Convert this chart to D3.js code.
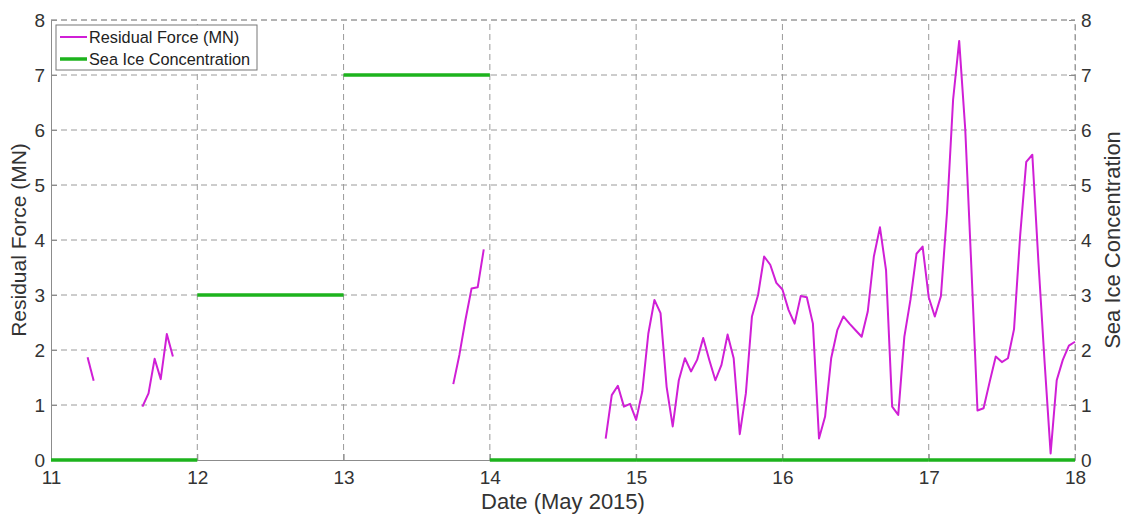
<!DOCTYPE html>
<html>
<head>
<meta charset="utf-8">
<script src="https://cdn.jsdelivr.net/npm/d3@7"></script>
<style>
  body { margin: 0; background: #fff; }
  svg { font-family: "Liberation Sans", Arial, sans-serif; }
</style>
</head>
<body>
<div id="chart"></div>
<script>
// Residual force, hourly samples, in runs between gaps (start = decimal day of May)
var forceRuns = [
    {start: 11 + 6/24, values: [1.87, 1.44]},
    {start: 11 + 15/24, values: [0.97, 1.21, 1.84, 1.47, 2.29, 1.88]},
    {start: 13 + 18/24, values: [1.38, 1.91, 2.55, 3.12, 3.14, 3.83]},
    {start: 14 + 19/24, values: [
        0.39, 1.18, 1.35, 0.97, 1.02,
        0.73, 1.24, 2.30, 2.91, 2.67, 1.33, 0.61, 1.45, 1.85, 1.61, 1.82, 2.22,
        1.82, 1.45, 1.73, 2.28, 1.85, 0.47, 1.21, 2.61, 3.00, 3.70, 3.55, 3.22,
        3.10, 2.73, 2.48, 2.98, 2.96, 2.48, 0.39, 0.79, 1.85, 2.36, 2.61, 2.48,
        2.36, 2.24, 2.70, 3.70, 4.23, 3.45, 0.97, 0.82, 2.24, 2.91, 3.75, 3.88,
        2.96, 2.61, 2.98, 4.50, 6.55, 7.62, 6.00, 3.50, 0.90, 0.94, 1.42, 1.88,
        1.78, 1.85, 2.38, 4.08, 5.42, 5.55, 3.60, 1.80, 0.12, 1.45, 1.82, 2.08,
        2.15]}
];

// Sea ice concentration, one value per day
var iceDays = [11, 12, 13, 14, 15, 16, 17];
var iceValues = [0, 3, 7, 0, 0, 0, 0];

var xTicks = [11, 12, 13, 14, 15, 16, 17, 18];
var yTicks = [0, 1, 2, 3, 4, 5, 6, 7, 8];

var W = 1126, H = 515;
var margin = {top: 20, right: 51, bottom: 55, left: 51};

var x = d3.scaleLinear().domain([11, 18]).range([margin.left, W - margin.right]);
var y = d3.scaleLinear().domain([0, 8]).range([H - margin.bottom, margin.top]);
var y2 = d3.scaleLinear().domain([0, 8]).range([H - margin.bottom, margin.top]);

var svg = d3.select("#chart").append("svg")
    .attr("width", W)
    .attr("height", H);

var gridColor = "#9a9a9a";
var axisColor = "#8c8c8c";

// gridlines
svg.append("g").selectAll("line")
    .data(xTicks.slice(1))
    .enter().append("line")
    .attr("x1", function(d) { return x(d); })
    .attr("x2", function(d) { return x(d); })
    .attr("y1", y(0))
    .attr("y2", y(8))
    .attr("stroke", gridColor)
    .attr("stroke-dasharray", "6,4");

svg.append("g").selectAll("line")
    .data(yTicks.slice(1))
    .enter().append("line")
    .attr("x1", x(11))
    .attr("x2", x(18))
    .attr("y1", function(d) { return y(d); })
    .attr("y2", function(d) { return y(d); })
    .attr("stroke", gridColor)
    .attr("stroke-dasharray", "6,4");

// axes (ticks point inward)
var fmt = d3.format("d");
var xAxis = svg.append("g")
    .attr("transform", "translate(0," + y(0) + ")")
    .call(d3.axisBottom(x).tickValues(xTicks).tickFormat(fmt)
          .tickSizeInner(-6).tickSizeOuter(0).tickPadding(11));
var yAxis = svg.append("g")
    .attr("transform", "translate(" + x(11) + ",0)")
    .call(d3.axisLeft(y).tickValues(yTicks).tickFormat(fmt)
          .tickSizeInner(-6).tickSizeOuter(0).tickPadding(6));
var yAxis2 = svg.append("g")
    .attr("transform", "translate(" + x(18) + ",0)")
    .call(d3.axisRight(y2).tickValues(yTicks).tickFormat(fmt)
          .tickSizeInner(-6).tickSizeOuter(0).tickPadding(6));

[xAxis, yAxis, yAxis2].forEach(function(g) {
    g.selectAll("path, line").attr("stroke", axisColor);
    g.selectAll("text")
        .attr("fill", "#333")
        .style("font-size", "19px")
        .style("font-family", "'Liberation Sans', Arial, sans-serif");
});
yAxis2.select("path.domain").attr("stroke", gridColor).attr("stroke-dasharray", "6,4");

// top border
svg.append("line")
    .attr("x1", x(11)).attr("x2", x(18))
    .attr("y1", y(8)).attr("y2", y(8))
    .attr("stroke", gridColor)
    .attr("stroke-dasharray", "6,4");

// sea ice concentration (daily steps)
var iceColor = "#1db31d";
svg.append("g").selectAll("line")
    .data(iceDays)
    .enter().append("line")
    .attr("x1", function(d) { return x(d); })
    .attr("x2", function(d) { return x(d + 1); })
    .attr("y1", function(d, i) { return y2(iceValues[i]); })
    .attr("y2", function(d, i) { return y2(iceValues[i]); })
    .attr("stroke", iceColor)
    .attr("stroke-width", 3.5);

// residual force
var forceColor = "#d01fd6";
var line = d3.line()
    .x(function(d) { return x(d.t); })
    .y(function(d) { return y(d.v); });

forceRuns.forEach(function(run) {
    var pts = run.values.map(function(v, i) { return {t: run.start + i / 24, v: v}; });
    svg.append("path")
        .datum(pts)
        .attr("fill", "none")
        .attr("stroke", forceColor)
        .attr("stroke-width", 2)
        .attr("stroke-linejoin", "round")
        .attr("d", line);
});

// axis titles
svg.append("text")
    .attr("x", (x(11) + x(18)) / 2)
    .attr("y", 509)
    .attr("text-anchor", "middle")
    .attr("fill", "#333")
    .style("font-size", "22px")
    .text("Date (May 2015)");

svg.append("text")
    .attr("transform", "translate(26," + y(4) + ") rotate(-90)")
    .attr("text-anchor", "middle")
    .attr("fill", "#333")
    .style("font-size", "21px")
    .text("Residual Force (MN)");

svg.append("text")
    .attr("transform", "translate(1120," + y(4) + ") rotate(-90)")
    .attr("text-anchor", "middle")
    .attr("fill", "#333")
    .style("font-size", "22px")
    .text("Sea Ice Concentration");

// legend
var lg = svg.append("g").attr("transform", "translate(56,25)");
lg.append("rect")
    .attr("width", 201)
    .attr("height", 45)
    .attr("fill", "#fff")
    .attr("stroke", "#777");
var items = [
    {label: "Residual Force (MN)", color: forceColor, w: 2},
    {label: "Sea Ice Concentration", color: iceColor, w: 3.5}
];
items.forEach(function(it, i) {
    var yy = 12 + i * 22;
    lg.append("line")
        .attr("x1", 4).attr("x2", 31)
        .attr("y1", yy).attr("y2", yy)
        .attr("stroke", it.color)
        .attr("stroke-width", it.w);
    lg.append("text")
        .attr("x", 33)
        .attr("y", yy + 6)
        .attr("fill", "#222")
        .style("font-size", "16.3px")
        .text(it.label);
});
</script>
</body>
</html>
